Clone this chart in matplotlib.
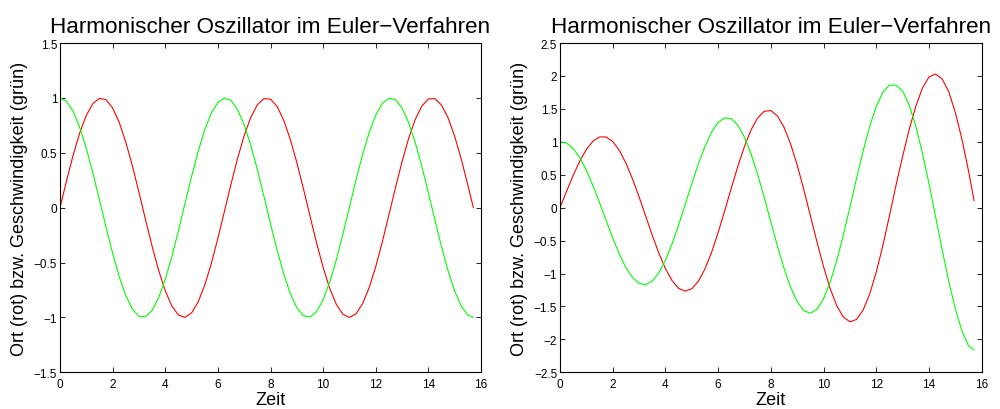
import matplotlib
matplotlib.use("Agg")
import matplotlib.pyplot as plt

plt.rcParams['font.family'] = ['Liberation Sans', 'DejaVu Sans']

zeit = [0, 0.25, 0.5, 0.75, 1.0, 1.25, 1.5, 1.75, 2.0, 2.25, 2.5, 2.75, 3.0, 3.25, 3.5, 3.75,
        4.0, 4.25, 4.5, 4.75, 5.0, 5.25, 5.5, 5.75, 6.0, 6.25, 6.5, 6.75, 7.0, 7.25, 7.5, 7.75,
        8.0, 8.25, 8.5, 8.75, 9.0, 9.25, 9.5, 9.75, 10.0, 10.25, 10.5, 10.75, 11.0, 11.25, 11.5, 11.75,
        12.0, 12.25, 12.5, 12.75, 13.0, 13.25, 13.5, 13.75, 14.0, 14.25, 14.5, 14.75, 15.0, 15.25, 15.5, 15.71]

ort_exakt = [0, 0.247, 0.479, 0.682, 0.841, 0.949, 0.997, 0.984, 0.909, 0.778, 0.598, 0.382, 0.141, -0.108, -0.351, -0.572,
             -0.757, -0.895, -0.978, -0.999, -0.959, -0.859, -0.706, -0.510, -0.279, -0.033, 0.215, 0.450, 0.657, 0.823, 0.938, 0.994,
             0.989, 0.923, 0.798, 0.624, 0.412, 0.174, -0.075, -0.320, -0.544, -0.736, -0.880, -0.971, -1.000, -0.967, -0.875, -0.728,
             -0.537, -0.311, -0.066, 0.183, 0.420, 0.632, 0.804, 0.926, 0.991, 0.994, 0.935, 0.818, 0.650, 0.442, 0.206, 0.0]

geschw_exakt = [1.0, 0.969, 0.878, 0.732, 0.540, 0.315, 0.071, -0.178, -0.416, -0.628, -0.801, -0.924, -0.990, -0.994, -0.936, -0.820,
                -0.654, -0.446, -0.211, 0.038, 0.284, 0.512, 0.709, 0.861, 0.960, 0.999, 0.977, 0.893, 0.754, 0.568, 0.347, 0.104,
                -0.146, -0.386, -0.602, -0.781, -0.911, -0.985, -0.997, -0.947, -0.839, -0.677, -0.476, -0.241, 0.004, 0.253, 0.484, 0.686,
                0.844, 0.950, 0.998, 0.983, 0.907, 0.775, 0.594, 0.378, 0.136, -0.113, -0.355, -0.576, -0.760, -0.897, -0.978, -1.0]

ort_euler = [0, 0.250, 0.491, 0.708, 0.884, 1.010, 1.075, 1.074, 1.005, 0.871, 0.678, 0.438, 0.164, -0.127, -0.418, -0.690,
             -0.925, -1.107, -1.225, -1.267, -1.231, -1.117, -0.929, -0.680, -0.377, -0.045, 0.298, 0.631, 0.932, 1.183, 1.365, 1.464,
             1.475, 1.394, 1.221, 0.966, 0.646, 0.276, -0.121, -0.521, -0.897, -1.229, -1.488, -1.662, -1.733, -1.697, -1.555, -1.310,
             -0.978, -0.574, -0.123, 0.344, 0.780, 1.190, 1.540, 1.815, 1.985, 2.030, 1.955, 1.760, 1.445, 1.040, 0.558, 0.109]

geschw_euler = [1.0, 0.981, 0.900, 0.760, 0.568, 0.335, 0.077, -0.194, -0.460, -0.703, -0.908, -1.060, -1.150, -1.169, -1.115, -0.989,
                -0.799, -0.552, -0.264, 0.048, 0.365, 0.666, 0.933, 1.148, 1.296, 1.365, 1.352, 1.251, 1.070, 0.816, 0.505, 0.153,
                -0.218, -0.583, -0.921, -1.210, -1.429, -1.564, -1.603, -1.542, -1.383, -1.130, -0.805, -0.413, 0.007, 0.444, 0.860, 1.234,
                1.538, 1.753, 1.864, 1.860, 1.772, 1.556, 1.237, 0.831, 0.365, -0.135, -0.640, -1.119, -1.537, -1.873, -2.099, -2.16]

titel = "Harmonischer Oszillator im Euler\u2212Verfahren"
xlabel = "Zeit"
ylabel = "Ort (rot) bzw. Geschwindigkeit (gr\u00fcn)"

fig = plt.figure(figsize=(10, 4.1), dpi=100)
ax1 = fig.add_axes([0.060, 0.0895, 0.421, 0.803])
ax2 = fig.add_axes([0.560, 0.0895, 0.4217, 0.803])

panels = [
    (ax1, ort_exakt, geschw_exakt, (-1.5, 1.5), [-1.5, -1, -0.5, 0, 0.5, 1, 1.5]),
    (ax2, ort_euler, geschw_euler, (-2.5, 2.5), [-2.5, -2, -1.5, -1, -0.5, 0, 0.5, 1, 1.5, 2, 2.5]),
]

for ax, ort, geschw, ylim, yticks in panels:
    ax.plot(zeit, ort, color=(1, 0, 0), lw=0.8)
    ax.plot(zeit, geschw, color=(0, 1, 0), lw=0.8)
    ax.set_xlim(0, 16)
    ax.set_ylim(*ylim)
    ax.set_xticks(range(0, 17, 2))
    ax.set_yticks(yticks)
    ax.set_yticklabels([("%g" % v).replace("-", "\u2212") for v in yticks])
    ax.tick_params(direction='in', top=True, right=True, length=3.5, width=0.6,
                   labelsize=8.5, pad=2)
    ax.tick_params(axis='x', pad=4)
    for s in ax.spines.values():
        s.set_linewidth(0.8)
    ax.set_title(titel, fontsize=16.2, pad=8)
    ax.set_xlabel(xlabel, fontsize=13, labelpad=1)
    ax.set_ylabel(ylabel, fontsize=13, labelpad=4)

fig.savefig("out.png", dpi=100)
